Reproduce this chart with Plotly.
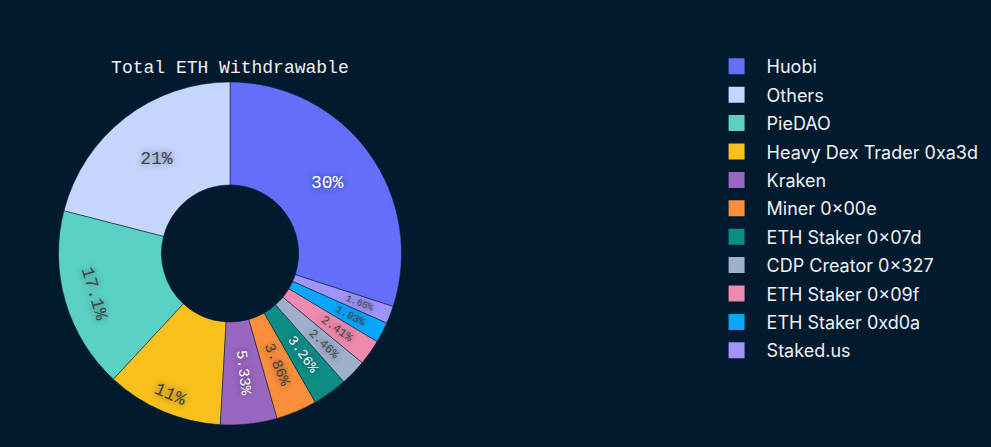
import plotly.graph_objects as go

# holders of withdrawable ETH, share in percent
labels = ["Huobi", "Others", "PieDAO", "Heavy Dex Trader 0xa3d", "Kraken",
          "Miner 0×00e", "ETH Staker 0×07d", "CDP Creator 0×327",
          "ETH Staker 0×09f", "ETH Staker 0xd0a", "Staked.us"]
shares = [30.0, 21.0, 17.1, 11.0, 5.33, 3.86, 3.26, 2.46, 2.41, 1.93, 1.65]
colors = ["#636efa", "#c5d5fe", "#5bd0c4", "#f7c01c", "#9966c0", "#f98f3c",
          "#0e8c86", "#9eb0cc", "#ee8aad", "#0aa7fc", "#9e94f9"]

bg = "#011a2e"
mono = "Liberation Mono, DejaVu Sans Mono, monospace"
pad = "\u00a0" * 3  # gives the labels some room so they shrink/rotate like the original

fig = go.Figure()
fig.add_trace(go.Pie(
    labels=labels,
    values=shares,
    hole=0.4,
    sort=True,
    texttemplate=pad + "%{percent}" + pad,
    textposition="inside",
    marker=dict(colors=colors, line=dict(color=bg, width=0.5)),
    textfont=dict(family=mono, size=18, shadow="0px 0px 6px rgba(0,0,0,0.5)"),
    domain=dict(x=[0.0575, 0.4067], y=[0, 0.8909]),
    showlegend=False,
))

# legend entries with bigger swatches than the pie legend gives
for name, c in zip(labels, colors):
    fig.add_trace(go.Scatter(
        x=[None], y=[None], mode="markers", name=name, legendgroup=name,
        marker=dict(symbol="square", size=16, color=c),
    ))

fig.update_layout(
    width=991, height=447,
    paper_bgcolor=bg, plot_bgcolor=bg,
    margin=dict(l=0, r=0, t=40, b=22),
    title=dict(text="Total ETH Withdrawable", x=0.232, xanchor="center",
               y=1 - 67 / 447, yanchor="middle",
               font=dict(family=mono, size=18, color="#f0f0f0")),
    xaxis=dict(visible=False), yaxis=dict(visible=False),
    legend=dict(x=0.713, y=0.979, xanchor="left", yanchor="top",
                font=dict(family="Inter", size=18, color="#eef2f6"),
                itemwidth=50, tracegroupgap=2, bgcolor="rgba(0,0,0,0)"),
)

fig.write_html("out.html", config=dict(displayModeBar=False),
               post_script="document.body.style.margin='0';")
